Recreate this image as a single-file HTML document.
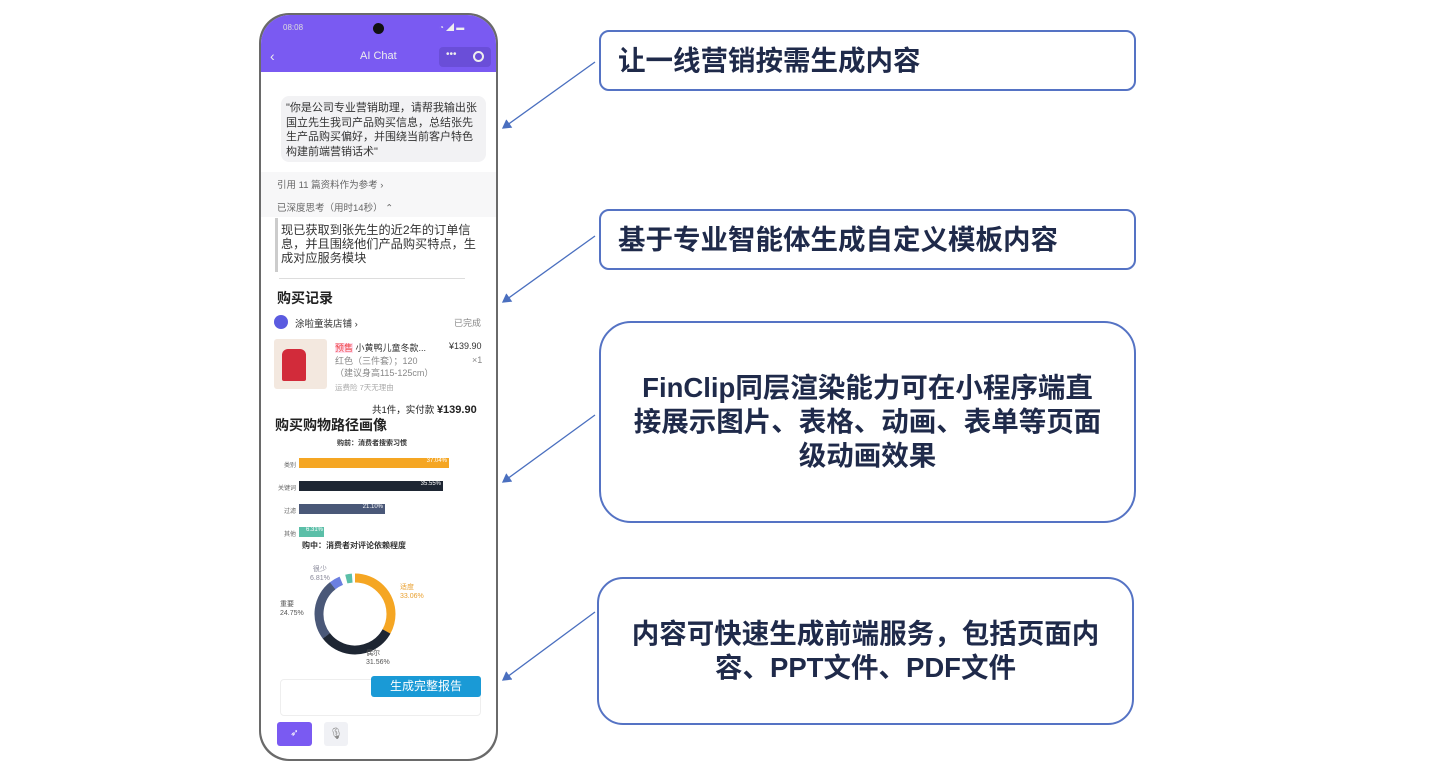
<!DOCTYPE html>
<html><head><meta charset="utf-8"><style>
*{margin:0;padding:0;box-sizing:border-box}
body{width:1440px;height:771px;background:#fff;position:relative;overflow:hidden;font-family:"Liberation Sans","Noto Sans CJK SC",sans-serif}
.a{position:absolute}
.box{position:absolute;border:2.5px solid #5573c4;background:#fff;display:flex;align-items:center;justify-content:center;text-align:center;font-weight:bold;color:#1f2a4a;font-size:27.5px;line-height:34px}
.t{position:absolute;white-space:nowrap;color:#333}
</style></head><body>
<!-- phone -->
<div class="a" style="left:259px;top:13px;width:239px;height:748px;border-radius:30px;background:#6a6a6a"></div>
<div class="a" style="left:261px;top:15px;width:235px;height:744px;border-radius:29px;background:#fff;overflow:hidden">
  <div class="a" style="left:0;top:0;width:235px;height:57px;background:#7a5af2"></div>
  <div class="t" style="left:22px;top:8px;font-size:8px;color:#ddd">08:08</div>
  <div class="a" style="left:112px;top:8px;width:11px;height:11px;border-radius:50%;background:#111"></div>
  <div class="t" style="left:178px;top:7px;font-size:8px;color:#eee">◔ ◢ ▬</div>
  <div class="t" style="left:9px;top:33px;font-size:14px;color:#eee">‹</div>
  <div class="t" style="left:99px;top:35px;font-size:11px;color:#eee">AI Chat</div>
  <div class="a" style="left:178px;top:32px;width:52px;height:20px;border-radius:4px;background:#6a4ed8"></div>
  <div class="t" style="left:185px;top:34px;font-size:10px;color:#eee">•••</div>
  <div class="a" style="left:212px;top:36px;width:11px;height:11px;border-radius:50%;border:2px solid #eee"></div>
  <div class="a" style="left:20px;top:81px;width:205px;height:66px;background:#f2f2f4;border-radius:8px"></div>
  <div class="t" style="left:25px;top:86px;font-size:11px;line-height:14.5px;color:#333">"你是公司专业营销助理，请帮我输出张<br>国立先生我司产品购买信息，总结张先<br>生产品购买偏好，并围绕当前客户特色<br>构建前端营销话术"</div>
  <div class="a" style="left:0;top:157px;width:235px;height:45px;background:#f7f7f8"></div>
  <div class="t" style="left:16px;top:162px;font-size:9.5px;color:#666">引用 11 篇资料作为参考 ›</div>
  <div class="t" style="left:16px;top:185px;font-size:9.5px;color:#666">已深度思考（用时14秒） ⌃</div>
  <div class="a" style="left:14px;top:203px;width:3px;height:54px;background:#ccc"></div>
  <div class="t" style="left:20px;top:208px;font-size:12.2px;line-height:14px;color:#333">现已获取到张先生的近2年的订单信<br>息，并且围绕他们产品购买特点，生<br>成对应服务模块</div>
  <div class="a" style="left:18px;top:263px;width:186px;height:1px;background:#ddd"></div>
  <div class="t" style="left:16px;top:273px;font-size:14px;font-weight:bold;color:#222">购买记录</div>
  <div class="a" style="left:13px;top:300px;width:14px;height:14px;border-radius:50%;background:#5b5be0"></div>
  <div class="t" style="left:34px;top:301px;font-size:9.5px;color:#333">涂啦童装店铺 ›</div>
  <div class="t" style="left:193px;top:301px;font-size:9px;color:#888">已完成</div>
  <div class="a" style="left:13px;top:324px;width:53px;height:50px;background:#f3e8df;border-radius:3px"></div>
  <div class="a" style="left:21px;top:334px;width:24px;height:32px;background:#d22b3a;border-radius:6px 6px 2px 2px"></div>
  <div class="t" style="left:74px;top:326px;font-size:9px;color:#333"><span style="color:#e44;background:#fde">预售</span> 小黄鸭儿童冬款...</div>
  <div class="t" style="left:188px;top:326px;font-size:9px;color:#333">¥139.90</div>
  <div class="t" style="left:74px;top:340px;font-size:9px;line-height:12px;color:#888">红色（三件套）；120<br>（建议身高115-125cm）</div>
  <div class="t" style="left:211px;top:340px;font-size:9px;color:#888">×1</div>
  <div class="t" style="left:74px;top:367px;font-size:7.5px;color:#aaa">运费险 7天无理由</div>
  <div class="t" style="left:111px;top:387px;font-size:9.5px;color:#222">共1件，实付款 <b style="font-size:11px">¥139.90</b></div>
  <div class="t" style="left:14px;top:400px;font-size:14px;font-weight:bold;color:#222">购买购物路径画像</div>
  <div class="t" style="left:76px;top:423px;font-size:7px;font-weight:bold;color:#333">购前：消费者搜索习惯</div>
  <div class="t" style="left:23px;top:445px;font-size:6px;color:#666">类别</div>
  <div class="a" style="left:38px;top:443px;width:150px;height:10px;background:#f5a623;color:#fff;font-size:6px;text-align:right;padding-right:2px">37.04%</div>
  <div class="t" style="left:17px;top:468px;font-size:6px;color:#666">关键词</div>
  <div class="a" style="left:38px;top:466px;width:144px;height:10px;background:#1e2633;color:#fff;font-size:6px;text-align:right;padding-right:2px">35.55%</div>
  <div class="t" style="left:23px;top:491px;font-size:6px;color:#666">过滤</div>
  <div class="a" style="left:38px;top:489px;width:86px;height:10px;background:#4a5878;color:#fff;font-size:6px;text-align:right;padding-right:2px">21.10%</div>
  <div class="t" style="left:23px;top:514px;font-size:6px;color:#666">其他</div>
  <div class="a" style="left:38px;top:512px;width:25px;height:10px;background:#5bbfa8;color:#fff;font-size:6px;text-align:right;padding-right:1px">6.31%</div>
  <div class="t" style="left:41px;top:525px;font-size:8px;font-weight:bold;color:#333">购中：消费者对评论依赖程度</div>
  <svg class="a" style="left:0;top:0" width="235" height="744">
    <g transform="translate(94,599)" fill="none" stroke-width="9">
      <circle r="36" stroke="#f5a623" stroke-dasharray="74.8 151.4" transform="rotate(-90)"/>
      <circle r="36" stroke="#1e2633" stroke-dasharray="71.4 154.8" transform="rotate(29)"/>
      <circle r="36" stroke="#4a5878" stroke-dasharray="56 170.2" transform="rotate(142.6)"/>
      <circle r="36" stroke="#6b7fe0" stroke-dasharray="10 216.2" transform="rotate(231.7)"/>
      <circle r="36" stroke="#5bbfa8" stroke-dasharray="6 220.2" transform="rotate(256)"/>
    </g>
  </svg>
  <div class="t" style="left:49px;top:550px;font-size:7px;line-height:9px;color:#889;text-align:center">很少<br>6.81%</div>
  <div class="t" style="left:139px;top:568px;font-size:7px;line-height:9px;color:#e9a030">适度<br>33.06%</div>
  <div class="t" style="left:19px;top:585px;font-size:7px;line-height:9px;color:#555">重要<br>24.75%</div>
  <div class="t" style="left:105px;top:634px;font-size:7px;line-height:9px;color:#555">偶尔<br>31.56%</div>
  <div class="a" style="left:19px;top:664px;width:201px;height:37px;border:1px solid #eee;border-radius:4px"></div>
  <div class="a" style="left:110px;top:661px;width:110px;height:21px;background:#1a9ad6;border-radius:3px;color:#fff;font-size:12px;line-height:21px;text-align:center">生成完整报告</div>
  <div class="a" style="left:16px;top:707px;width:35px;height:24px;background:#7a5af2;border-radius:3px;color:#fff;font-size:10px;text-align:center;line-height:24px">➶</div>
  <div class="a" style="left:63px;top:707px;width:24px;height:24px;background:#f0f1f5;border-radius:3px;color:#888;font-size:11px;text-align:center;line-height:24px">🎙</div>
</div>
<!-- arrows -->
<svg class="a" style="left:0;top:0" width="1440" height="771">
  <defs><marker id="m" markerWidth="8" markerHeight="8" refX="6" refY="4" orient="auto"><path d="M0,0L7,4L0,8z" fill="#4a6fbf"/></marker></defs>
  <g stroke="#4a6fbf" stroke-width="1.3" marker-end="url(#m)">
    <line x1="595" y1="62" x2="503" y2="128"/>
    <line x1="595" y1="236" x2="503" y2="302"/>
    <line x1="595" y1="415" x2="503" y2="482"/>
    <line x1="595" y1="612" x2="503" y2="680"/>
  </g>
</svg>
<div class="box" style="left:599px;top:30px;width:537px;height:61px;border-radius:10px;justify-content:flex-start;padding-left:17px">让一线营销按需生成内容</div>
<div class="box" style="left:599px;top:209px;width:537px;height:61px;border-radius:10px;justify-content:flex-start;padding-left:17px">基于专业智能体生成自定义模板内容</div>
<div class="box" style="left:599px;top:321px;width:537px;height:202px;border-radius:32px;padding:0 10px;white-space:nowrap">FinClip同层渲染能力可在小程序端直<br>接展示图片、表格、动画、表单等页面<br>级动画效果</div>
<div class="box" style="left:597px;top:577px;width:537px;height:148px;border-radius:26px;padding:0 10px;white-space:nowrap">内容可快速生成前端服务，包括页面内<br>容、PPT文件、PDF文件</div>
</body></html>
